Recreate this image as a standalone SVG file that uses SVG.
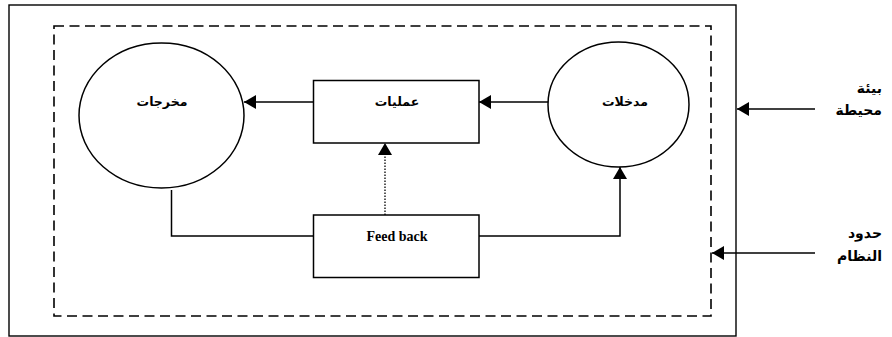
<svg xmlns="http://www.w3.org/2000/svg" width="892" height="337" viewBox="0 0 892 337">
  <defs>
    <marker id="arrow" viewBox="0 0 12 14" refX="12" refY="7" markerWidth="12" markerHeight="14" markerUnits="userSpaceOnUse" orient="auto">
      <path d="M0,0 L12,7 L0,14 Z" fill="#000"/>
    </marker>
  </defs>
  <style>
    .shape { fill: #fff; stroke: #000; stroke-width: 1.5; }
    .frame { fill: none; stroke: #000; stroke-width: 1.4; }
    .dashed { fill: none; stroke: #000; stroke-width: 1.6; stroke-dasharray: 10 5.5; }
    .link { fill: none; stroke: #000; stroke-width: 1.5; }
    .dotted { fill: none; stroke: #000; stroke-width: 1.3; stroke-dasharray: 1.5 1.5; }
    .ar { font-family: "DejaVu Sans", "Noto Sans", sans-serif; font-weight: bold; font-size: 12.5px; fill: #000; }
    .side { font-family: "DejaVu Sans", "Noto Sans", sans-serif; font-weight: bold; font-size: 14px; fill: #000; }
    .lat { font-family: "Liberation Serif", serif; font-weight: bold; font-size: 14px; fill: #000; }
  </style>

  <!-- environment frame and system boundary -->
  <rect class="frame" x="9" y="5" width="727" height="331"/>
  <rect class="dashed" x="54" y="26" width="657" height="290"/>

  <!-- connectors -->
  <g id="connectors">
    <line class="link" x1="548" y1="102" x2="479" y2="102" marker-end="url(#arrow)"/>
    <line class="link" x1="313" y1="102" x2="244" y2="102" marker-end="url(#arrow)"/>
    <line class="dotted" x1="385" y1="221" x2="385" y2="143" marker-end="url(#arrow)"/>
    <polyline class="link" points="171.5,190 171.5,236 313,236"/>
    <polyline class="link" points="479,236 620,236 620,167" marker-end="url(#arrow)"/>
    <line class="link" x1="815" y1="109" x2="737" y2="109" marker-end="url(#arrow)"/>
    <line class="link" x1="815" y1="253" x2="712" y2="253" marker-end="url(#arrow)"/>
  </g>

  <g id="outputs">
    <ellipse class="shape" cx="161.5" cy="115.5" rx="82.5" ry="72.5"/>
    <text class="ar" x="162" y="106" text-anchor="middle">مخرجات</text>
  </g>

  <g id="processes">
    <rect class="shape" x="313.5" y="80.5" width="165.5" height="62.5"/>
    <text class="ar" x="397" y="106" text-anchor="middle">عمليات</text>
  </g>

  <g id="inputs">
    <ellipse class="shape" cx="618.5" cy="104.5" rx="70.5" ry="62.5"/>
    <text class="ar" x="625" y="106" text-anchor="middle">مدخلات</text>
  </g>

  <g id="feedback">
    <rect class="shape" x="313.5" y="215" width="165.5" height="62.5"/>
    <text class="lat" x="397" y="241" text-anchor="middle">Feed back</text>
  </g>

  <g id="environment-label">
    <text class="side" x="882" y="93" text-anchor="end">بيئة</text>
    <text class="side" x="882" y="115" text-anchor="end">محيطة</text>
  </g>

  <g id="boundary-label">
    <text class="side" x="882" y="238" text-anchor="end">حدود</text>
    <text class="side" x="882" y="261" text-anchor="end">النظام</text>
  </g>
</svg>
